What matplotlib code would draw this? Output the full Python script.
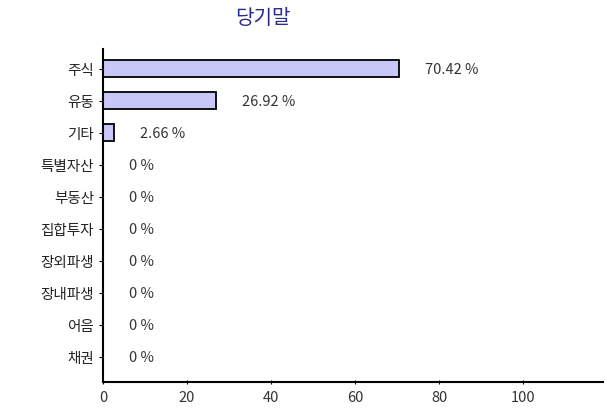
import matplotlib.pyplot as plt

plt.rcParams['font.family'] = ['Noto Sans CJK KR', 'DejaVu Sans']

# data (bottom to top)
categories = ['채권', '어음', '장내파생', '장외파생', '집합투자', '부동산', '특별자산', '기타', '유동', '주식']
values = [0, 0, 0, 0, 0, 0, 0, 2.66, 26.92, 70.42]
value_labels = ['0 %', '0 %', '0 %', '0 %', '0 %', '0 %', '0 %', '2.66 %', '26.92 %', '70.42 %']
title = '당기말'

fig = plt.figure(figsize=(6.09, 4.14), dpi=100)
ax = fig.add_axes([0.169, 0.075, 0.821, 0.804])

ypos = list(range(len(categories)))
ax.barh(ypos, values, height=0.53, color='#c8c8f8', edgecolor='black', linewidth=1.3)

for y, v, lab in zip(ypos, values, value_labels):
    ax.annotate(lab, (v, y), xytext=(19, 0), textcoords='offset points',
                va='center', ha='left', fontsize=10.5, color='#333333')

ax.set_yticks(ypos)
ax.set_yticklabels(categories, fontsize=10.5, color='#222222')
ax.set_xticks([0, 20, 40, 60, 80, 100])
ax.tick_params(axis='x', labelsize=10.5, labelcolor='#333333', length=3, direction='inout', pad=4)
ax.tick_params(axis='y', length=3, direction='out')
ax.set_xlim(0, 119)
ax.set_ylim(-0.78, 9.62)

for s in ['top', 'right']:
    ax.spines[s].set_visible(False)
for s in ['left', 'bottom']:
    ax.spines[s].set_linewidth(1.5)

fig.text(0.432, 0.955, title, ha='center', va='center', fontsize=14.5, color='#2a2a90')

fig.savefig('out.png', dpi=100)
